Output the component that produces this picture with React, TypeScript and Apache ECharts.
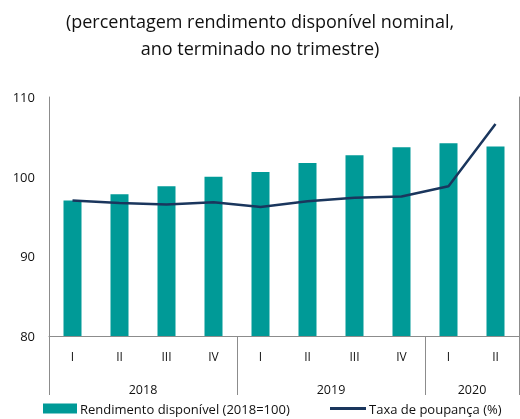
import React, { useEffect, useRef } from "react";
import * as echarts from "echarts";

const quarters = ["I", "II", "III", "IV", "I", "II", "III", "IV", "I", "II"];
const yearSlots = ["", "", "2018", "", "", "", "2019", "", "", "2020", ""];
const yearBoundaries = [0, 4, 8, 10];
const rendimento = [97.0, 97.8, 98.8, 100.0, 100.6, 101.7, 102.7, 103.7, 104.2, 103.8];
const poupanca = [97.0, 96.7, 96.5, 96.8, 96.2, 96.9, 97.35, 97.5, 98.8, 106.6];
const yTicks = { min: 80, max: 110, interval: 10 };
const barName = "Rendimento disponível (2018=100)";
const lineName = "Taxa de poupança (%)";

const FONT = "Open Sans";
const AXIS_GRAY = "#8c8c8c";
const TEAL = "#009a97";
const NAVY = "#1a365d";

export default function App() {
  const ref = useRef<HTMLDivElement>(null);
  useEffect(() => {
    if (!ref.current) return;
    const chart = echarts.init(ref.current, undefined, { renderer: "svg" });
    chart.setOption({
      animation: false,
      textStyle: { fontFamily: FONT },
      title: {
        text: "(percentagem rendimento disponível nominal,\nano terminado no trimestre)",
        left: "center",
        top: 2,
        textStyle: { fontFamily: FONT, fontSize: 18, fontWeight: "normal", color: "#111", lineHeight: 27 },
      },
      legend: [
        {
          top: 402,
          left: 43,
          padding: 0,
          itemWidth: 34,
          itemHeight: 10,
          textStyle: { fontFamily: FONT, fontSize: 13, color: "#111", padding: [0, 0, 0, -2] },
          data: [{ name: barName, icon: "rect" }],
        },
        {
          top: 402,
          left: 330,
          padding: 0,
          itemWidth: 36,
          itemHeight: 3,
          textStyle: { fontFamily: FONT, fontSize: 13, color: "#111", padding: [0, 0, 0, -2] },
          data: [{ name: lineName, icon: "rect" }],
        },
      ],
      grid: { left: 49, right: 1, top: 97, bottom: 83, containLabel: false },
      xAxis: [
        {
          type: "category",
          data: quarters,
          position: "bottom",
          axisLine: { lineStyle: { color: AXIS_GRAY, width: 1 } },
          axisTick: { show: false },
          axisLabel: { fontFamily: FONT, fontSize: 12, color: "#111", margin: 14, interval: 0 },
        },
        {
          type: "category",
          data: yearSlots,
          position: "bottom",
          boundaryGap: false,
          axisLine: { show: false },
          axisTick: {
            show: true,
            length: 59,
            interval: (i: number) => yearBoundaries.includes(i),
            lineStyle: { color: AXIS_GRAY, width: 1 },
          },
          axisLabel: {
            fontFamily: FONT,
            fontSize: 12.5,
            color: "#111",
            margin: 47,
            interval: (_i: number, v: string) => v !== "",
          },
        },
      ],
      yAxis: [
        {
          type: "value",
          ...yTicks,
          position: "left",
          splitLine: { show: false },
          axisLine: { show: true, lineStyle: { color: AXIS_GRAY, width: 1 } },
          axisTick: { show: false },
          axisLabel: { fontFamily: FONT, fontSize: 13, color: "#111", margin: 14 },
        },
        {
          type: "value",
          ...yTicks,
          position: "right",
          splitLine: { show: false },
          axisLine: { show: true, lineStyle: { color: AXIS_GRAY, width: 1 } },
          axisTick: { show: false },
          axisLabel: { show: false },
        },
      ],
      series: [
        {
          name: barName,
          type: "bar",
          data: rendimento,
          barWidth: 18,
          itemStyle: { color: TEAL },
          xAxisIndex: 0,
          yAxisIndex: 0,
        },
        {
          name: lineName,
          type: "line",
          data: poupanca,
          symbol: "none",
          lineStyle: { color: NAVY, width: 2.5 },
          itemStyle: { color: NAVY },
          xAxisIndex: 0,
          yAxisIndex: 1,
        },
      ],
    });
    return () => chart.dispose();
  }, []);
  return <div ref={ref} style={{ position: "fixed", left: 0, top: 0, width: 520, height: 419 }} />;
}
